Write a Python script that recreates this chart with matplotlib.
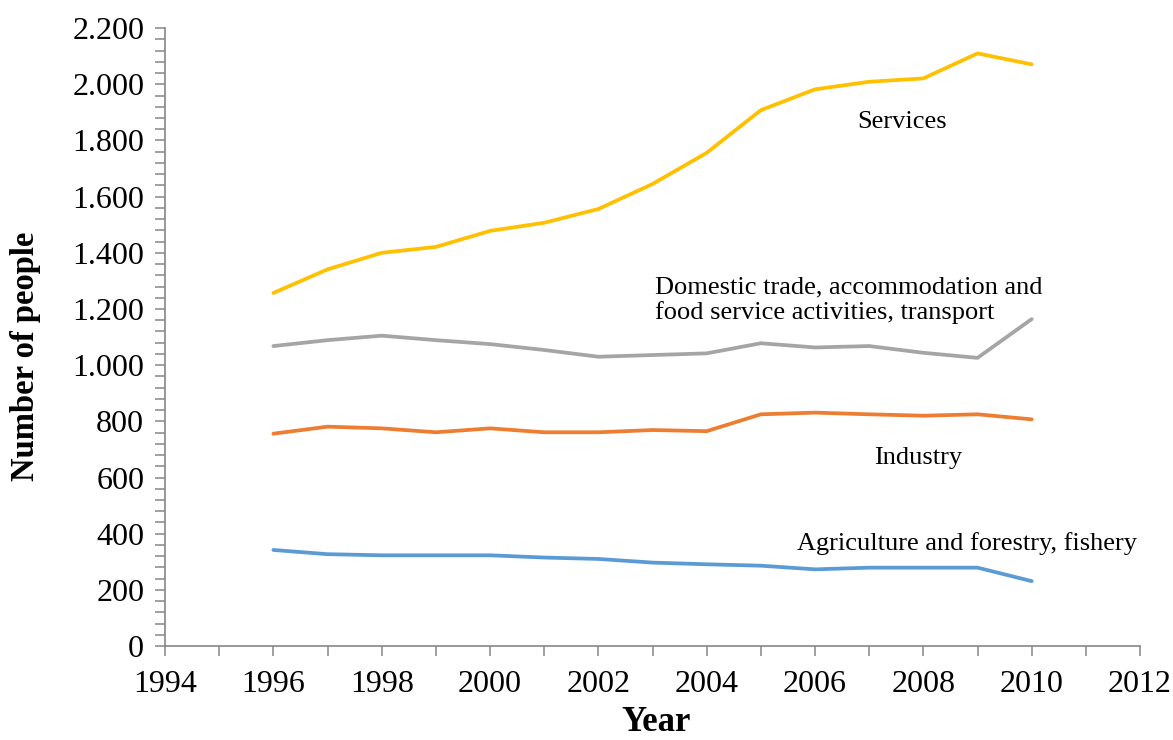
import matplotlib
matplotlib.use("Agg")
import matplotlib.pyplot as plt
from matplotlib.ticker import MultipleLocator, FuncFormatter

# employment by sector, number of people
years = [1996, 1997, 1998, 1999, 2000, 2001, 2002, 2003, 2004, 2005, 2006, 2007, 2008, 2009, 2010]
services = [1257, 1341, 1400, 1421, 1478, 1507, 1556, 1645, 1756, 1908, 1982, 2009, 2021, 2110, 2071]
trade = [1068, 1089, 1105, 1089, 1075, 1054, 1030, 1036, 1042, 1078, 1063, 1068, 1044, 1026, 1164]
industry = [756, 781, 775, 761, 775, 761, 761, 769, 765, 825, 831, 825, 820, 825, 807]
agriculture = [342, 327, 323, 323, 323, 315, 310, 297, 291, 286, 273, 279, 279, 279, 231]

plt.rcParams["font.family"] = ["Liberation Serif", "DejaVu Serif"]

fig = plt.figure(figsize=(11.73, 7.40), dpi=100)
ax = fig.add_axes([0.1407, 0.127, 0.8312, 0.835])

ax.plot(years, services, color="#FFC000", lw=2.7, solid_capstyle="round")
ax.plot(years, trade, color="#A5A5A5", lw=2.7, solid_capstyle="round")
ax.plot(years, industry, color="#ED7D31", lw=2.7, solid_capstyle="round")
ax.plot(years, agriculture, color="#5B9BD5", lw=2.7, solid_capstyle="round")

ax.set_xlim(1994, 2012)
ax.set_ylim(0, 2200)
ax.xaxis.set_major_locator(MultipleLocator(2))
ax.xaxis.set_minor_locator(MultipleLocator(1))
ax.yaxis.set_major_locator(MultipleLocator(200))
ax.yaxis.set_minor_locator(MultipleLocator(40))
ax.yaxis.set_major_formatter(FuncFormatter(lambda v, p: "{:,.0f}".format(v).replace(",", ".")))

for s in ["top", "right"]:
    ax.spines[s].set_visible(False)
for s in ["left", "bottom"]:
    ax.spines[s].set_color("#868686")
    ax.spines[s].set_linewidth(1.2)

ax.tick_params(which="both", direction="out", length=7, width=1.1, color="#868686",
               labelsize=23)
ax.tick_params(axis="x", pad=10)
ax.tick_params(axis="y", pad=8)

ax.set_xlabel("Year", fontsize=25, fontweight="bold", va="center")
ax.set_ylabel("Number of people", fontsize=23.5, fontweight="bold", va="center")
ax.xaxis.set_label_coords(0.5036, -0.123)
ax.yaxis.set_label_coords(-0.1436, 0.469)

# series labels
ax.text(2007.6, 1865, "Services", fontsize=19, ha="center", va="center")
ax.text(2003.05, 1232, "Domestic trade, accommodation and\nfood service activities, transport",
        fontsize=19, ha="left", va="center", linespacing=1.15)
ax.text(2007.9, 670, "Industry", fontsize=19, ha="center", va="center")
ax.text(2008.8, 365, "Agriculture and forestry, fishery", fontsize=19, ha="center", va="center")

fig.savefig("out.png", dpi=100)
